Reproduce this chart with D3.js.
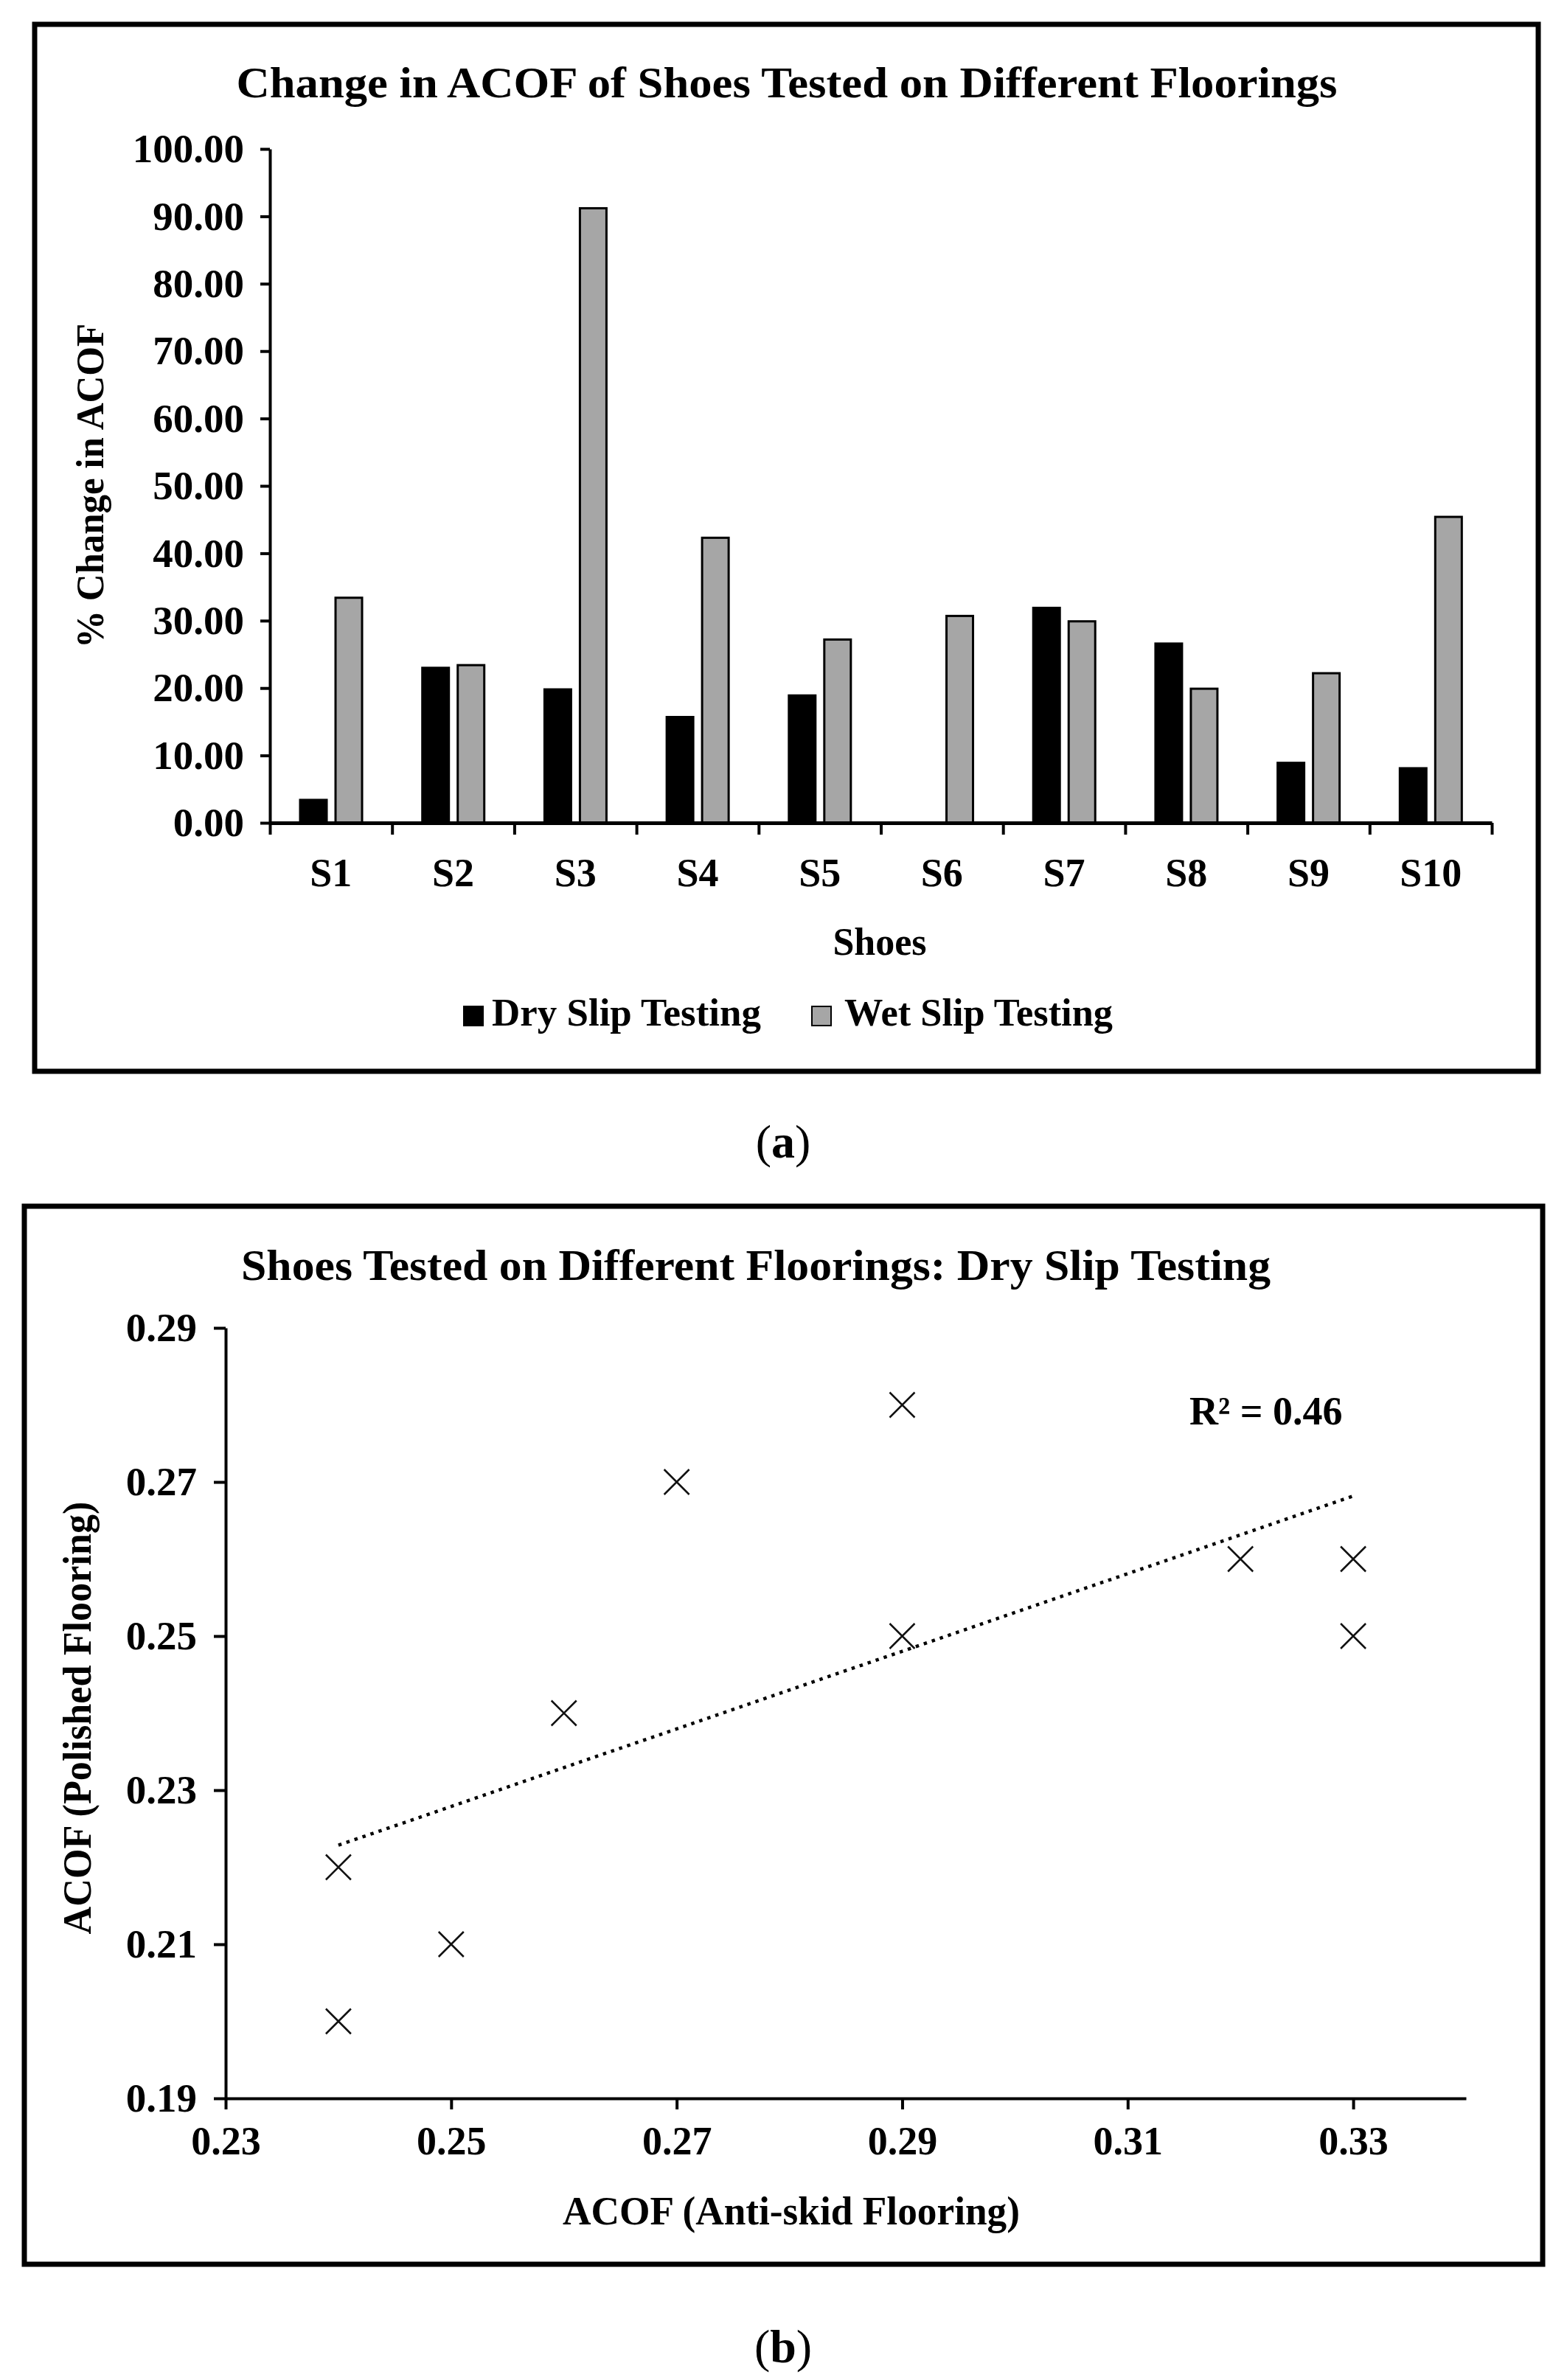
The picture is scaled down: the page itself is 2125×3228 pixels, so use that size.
<!DOCTYPE html>
<html>
<head>
<meta charset="utf-8">
<script src="https://cdn.jsdelivr.net/npm/d3@7"></script>
<style>
  body { margin: 0; background: #fff; }
  text { font-family: "Liberation Serif", "Times New Roman", serif; fill: #000; }
</style>
</head>
<body>
<div id="chart"></div>
<script>
// chart (a) data
const shoes = ["S1", "S2", "S3", "S4", "S5", "S6", "S7", "S8", "S9", "S10"];
const drySlip = [3.4, 23.0, 19.8, 15.7, 18.9, 0, 31.9, 26.6, 8.9, 8.1];
const wetSlip = [33.4, 23.4, 91.2, 42.3, 27.2, 30.7, 29.9, 19.9, 22.2, 45.4];
const seriesNames = ["Dry Slip Testing", "Wet Slip Testing"];
const seriesColors = ["#000000", "#a6a6a6"];
const yTicksA = [0, 10, 20, 30, 40, 50, 60, 70, 80, 90, 100];

// chart (b) data
const antiSkid = [0.24, 0.24, 0.25, 0.26, 0.27, 0.29, 0.29, 0.32, 0.33, 0.33];
const polished = [0.22, 0.20, 0.21, 0.24, 0.27, 0.28, 0.25, 0.26, 0.26, 0.25];
const xTicksB = [0.23, 0.25, 0.27, 0.29, 0.31, 0.33];
const yTicksB = [0.19, 0.21, 0.23, 0.25, 0.27, 0.29];

const W = 2125, H = 3228;
const svg = d3.select("#chart").append("svg")
    .attr("width", W)
    .attr("height", H)
    .attr("viewBox", "0 0 " + W + " " + H);

svg.append("rect").attr("width", W).attr("height", H).attr("fill", "#fff");

const styleAxis = (g, w, fs) => {
    g.selectAll(".domain").attr("stroke", "#000").attr("stroke-width", w);
    g.selectAll(".tick line").attr("stroke", "#000").attr("stroke-width", w);
    g.selectAll("text").attr("font-size", fs).attr("font-weight", "bold")
        .attr("font-family", '"Liberation Serif", "Times New Roman", serif');
};

// ---------- chart (a) ----------
svg.append("rect")
    .attr("x", 47).attr("y", 33).attr("width", 2039).attr("height", 1420)
    .attr("fill", "none").attr("stroke", "#000").attr("stroke-width", 7);

const aLeft = 366, aRight = 2023, aTop = 202, aBottom = 1116;

const x0 = d3.scaleBand().domain(shoes).range([aLeft, aRight]).padding(0);
const x1 = d3.scaleBand().domain(seriesNames)
    .range([x0.bandwidth() * 0.2475, x0.bandwidth() * 0.7545])
    .paddingInner(0.25).paddingOuter(0);
const yA = d3.scaleLinear().domain([0, 100]).range([aBottom, aTop]);
const edge = d3.scaleLinear().domain([0, shoes.length]).range([aLeft, aRight]);

svg.append("text")
    .attr("x", 1067).attr("y", 132)
    .attr("text-anchor", "middle")
    .attr("font-size", 60).attr("font-weight", "bold")
    .attr("textLength", 1493).attr("lengthAdjust", "spacingAndGlyphs")
    .text("Change in ACOF of Shoes Tested on Different Floorings");

const rows = shoes.map((s, i) => ({ shoe: s, values: [drySlip[i], wetSlip[i]] }));

const groups = svg.selectAll("g.shoe")
    .data(rows)
    .enter()
    .append("g")
    .attr("class", "shoe")
    .attr("transform", (d) => "translate(" + x0(d.shoe) + ",0)");

groups.selectAll("rect")
    .data((d) => d.values.map((v, k) => ({ key: seriesNames[k], v: v, k: k })))
    .enter()
    .append("rect")
    .attr("x", (d) => x1(d.key))
    .attr("y", (d) => yA(d.v))
    .attr("width", x1.bandwidth())
    .attr("height", (d) => yA(0) - yA(d.v))
    .attr("fill", (d) => seriesColors[d.k])
    .attr("stroke", "#000")
    .attr("stroke-width", (d) => d.v > 0 ? 3 : 0);

const yAxisA = svg.append("g")
    .attr("transform", "translate(" + aLeft + ",0)")
    .call(d3.axisLeft(yA).tickValues(yTicksA).tickSize(13).tickSizeOuter(0)
        .tickPadding(22).tickFormat(d3.format(".2f")));
styleAxis(yAxisA, 4, 55);

const xEdgeAxis = svg.append("g")
    .attr("transform", "translate(0," + aBottom + ")")
    .call(d3.axisBottom(edge).tickValues(d3.range(0, shoes.length + 1)).tickSize(16)
        .tickSizeOuter(0).tickFormat(""));
styleAxis(xEdgeAxis, 4, 50);
xEdgeAxis.select(".domain").attr("stroke-width", 5);

const xLabelAxis = svg.append("g")
    .attr("transform", "translate(0," + aBottom + ")")
    .call(d3.axisBottom(x0).tickSize(0).tickPadding(48));
styleAxis(xLabelAxis, 0, 54);
xLabelAxis.select(".domain").remove();

svg.append("text")
    .attr("x", 1193).attr("y", 1295)
    .attr("text-anchor", "middle")
    .attr("font-size", 52).attr("font-weight", "bold")
    .text("Shoes");

svg.append("text")
    .attr("transform", "translate(140," + (aTop + aBottom) / 2 + ") rotate(-90)")
    .attr("text-anchor", "middle")
    .attr("font-size", 52).attr("font-weight", "bold")
    .attr("textLength", 440).attr("lengthAdjust", "spacingAndGlyphs")
    .text("% Change in ACOF");

// legend
const legendX = [629, 1101];
const legend = svg.selectAll("g.legend")
    .data(seriesNames)
    .enter()
    .append("g")
    .attr("class", "legend")
    .attr("transform", (d, i) => "translate(" + legendX[i] + ",1365)");

legend.append("rect")
    .attr("width", 26).attr("height", 26)
    .attr("fill", (d, i) => seriesColors[i])
    .attr("stroke", "#000").attr("stroke-width", 2);

legend.append("text")
    .attr("x", (d, i) => i === 0 ? 38 : 44)
    .attr("y", 26)
    .attr("font-size", 53).attr("font-weight", "bold")
    .attr("textLength", (d, i) => i === 0 ? 365 : 364)
    .attr("lengthAdjust", "spacingAndGlyphs")
    .text((d) => d);

const capA = svg.append("text")
    .attr("x", 1062).attr("y", 1570)
    .attr("text-anchor", "middle")
    .attr("font-size", 64);
capA.append("tspan").text("(");
capA.append("tspan").attr("font-weight", "bold").text("a");
capA.append("tspan").text(")");

// ---------- chart (b) ----------
svg.append("rect")
    .attr("x", 33).attr("y", 1636).attr("width", 2059).attr("height", 1435)
    .attr("fill", "none").attr("stroke", "#000").attr("stroke-width", 7);

const bLeft = 306, bRight = 1988, bTop = 1801, bBottom = 2846;
const xB = d3.scaleLinear().domain([0.23, 0.34]).range([bLeft, bRight]);
const yB = d3.scaleLinear().domain([0.19, 0.29]).range([bBottom, bTop]);

svg.append("text")
    .attr("x", 1025).attr("y", 1736)
    .attr("text-anchor", "middle")
    .attr("font-size", 59).attr("font-weight", "bold")
    .attr("textLength", 1396).attr("lengthAdjust", "spacingAndGlyphs")
    .text("Shoes Tested on Different Floorings: Dry Slip Testing");

const yAxisB = svg.append("g")
    .attr("transform", "translate(" + bLeft + ",0)")
    .call(d3.axisLeft(yB).tickValues(yTicksB).tickSize(16).tickSizeOuter(0)
        .tickPadding(23).tickFormat(d3.format(".2f")));
styleAxis(yAxisB, 4, 55);

const xAxisB = svg.append("g")
    .attr("transform", "translate(0," + bBottom + ")")
    .call(d3.axisBottom(xB).tickValues(xTicksB).tickSize(15).tickSizeOuter(0)
        .tickPadding(23).tickFormat(d3.format(".2f")));
styleAxis(xAxisB, 4, 54);

// linear trend line (least squares fit of the points)
const mx = d3.mean(antiSkid), my = d3.mean(polished);
const sxy = d3.sum(antiSkid, (v, i) => (v - mx) * (polished[i] - my));
const sxx = d3.sum(antiSkid, (v) => (v - mx) * (v - mx));
const slope = sxy / sxx;
const icpt = my - slope * mx;
const trendX = d3.extent(antiSkid);

svg.append("line")
    .attr("x1", xB(trendX[0])).attr("y1", yB(icpt + slope * trendX[0]))
    .attr("x2", xB(trendX[1])).attr("y2", yB(icpt + slope * trendX[1]))
    .attr("stroke", "#000").attr("stroke-width", 4.5)
    .attr("stroke-dasharray", "4.5 7");

const m = 17;
svg.selectAll("path.pt")
    .data(antiSkid)
    .enter()
    .append("path")
    .attr("class", "pt")
    .attr("d", (d, i) => {
        const cx = xB(d), cy = yB(polished[i]);
        return "M" + (cx - m) + "," + (cy - m) + "L" + (cx + m) + "," + (cy + m) +
            "M" + (cx - m) + "," + (cy + m) + "L" + (cx + m) + "," + (cy - m);
    })
    .attr("stroke", "#111").attr("stroke-width", 2.5).attr("fill", "none");

svg.append("text")
    .attr("x", 1613).attr("y", 1932)
    .attr("font-size", 54).attr("font-weight", "bold")
    .text("R² = " + d3.format(".2f")((sxy * sxy) / (sxx * d3.sum(polished, (v) => (v - my) * (v - my)))));

svg.append("text")
    .attr("x", 1073).attr("y", 3017)
    .attr("text-anchor", "middle")
    .attr("font-size", 54).attr("font-weight", "bold")
    .attr("textLength", 620).attr("lengthAdjust", "spacingAndGlyphs")
    .text("ACOF (Anti-skid Flooring)");

svg.append("text")
    .attr("transform", "translate(123," + 2330 + ") rotate(-90)")
    .attr("text-anchor", "middle")
    .attr("font-size", 54).attr("font-weight", "bold")
    .attr("textLength", 587).attr("lengthAdjust", "spacingAndGlyphs")
    .text("ACOF (Polished Flooring)");

const capB = svg.append("text")
    .attr("x", 1062).attr("y", 3204)
    .attr("text-anchor", "middle")
    .attr("font-size", 64);
capB.append("tspan").text("(");
capB.append("tspan").attr("font-weight", "bold").text("b");
capB.append("tspan").text(")");
</script>
</body>
</html>
